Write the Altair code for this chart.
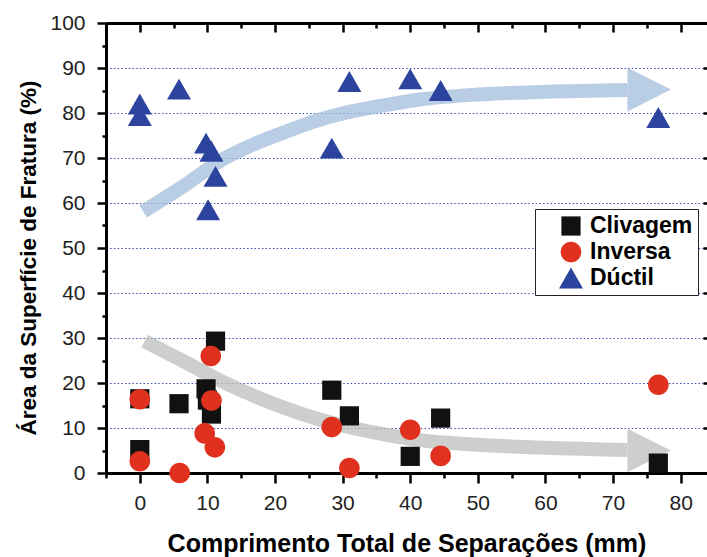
import altair as alt
import pandas as pd

# ---- measured points -------------------------------------------------------
tipos = ["Clivagem", "Inversa", "Dúctil"]

# Clivagem (squares)
cliv_x = [0, 0, 5.8, 9.8, 10.0, 10.6, 11.2, 28.4, 31.0, 40.0, 44.5, 76.7]
cliv_y = [16.5, 5.2, 15.4, 18.7, 16.2, 13.1, 29.3, 18.4, 12.7, 3.7, 12.2, 2.2]

# Inversa (circles)
inv_x = [0, 0, 5.9, 10.5, 10.6, 9.6, 11.1, 28.4, 31.0, 40.0, 44.5, 76.7]
inv_y = [16.4, 2.6, 0.0, 26.0, 16.1, 8.8, 5.7, 10.2, 1.1, 9.6, 3.8, 19.6]

# Dúctil (triangles)
duc_x = [0, 0, 5.8, 9.8, 10.6, 11.2, 10.1, 28.4, 31.0, 40.0, 44.5, 76.7]
duc_y = [82.0, 79.4, 85.3, 73.3, 71.5, 65.9, 58.5, 72.2, 87.0, 87.6, 85.0, 79.0]

# ---- trend arrows (centre line of each band + arrow head) ------------------
blue_x = [0.5, 6.9, 11.8, 16.8, 21.7, 26.6, 31.5, 36.5, 41.4, 50.0, 60.0, 72.1]
blue_y = [58.1, 64.2, 69.3, 73.0, 75.9, 78.5, 80.4, 81.8, 83.0, 84.1, 84.7, 85.1]
grey_x = [0.7, 6.9, 11.8, 16.8, 21.7, 26.6, 31.5, 36.5, 41.4, 50.0, 60.0, 72.1]
grey_y = [29.3, 24.5, 20.6, 17.2, 14.3, 11.9, 10.0, 8.5, 7.3, 6.3, 5.6, 5.1]
head_x = [75.35, 75.35]
head_y = [85.2, 5.0]

# band colours are slightly translucent so the dotted grid shows through
BLUE_BAND = "#a2bcdc"
GREY_BAND = "#bcbfbc"
BAND_OPACITY = 0.75
head_col = [BLUE_BAND, GREY_BAND]

# ---- axis ticks ------------------------------------------------------------
x_ticks = list(range(-5, 85, 5))
y_ticks = list(range(0, 105, 5))
y_major = list(range(10, 100, 10))

FONT = "Liberation Sans"

pts = pd.DataFrame({
    "x": cliv_x + inv_x + duc_x,
    "y": cliv_y + inv_y + duc_y,
    "tipo": [tipos[0]] * len(cliv_x) + [tipos[1]] * len(inv_x) + [tipos[2]] * len(duc_x),
})
blue_df = pd.DataFrame({"x": blue_x, "y": blue_y})
grey_df = pd.DataFrame({"x": grey_x, "y": grey_y})
head_df = pd.DataFrame({"x": head_x, "y": head_y, "cor": head_col})

xs = alt.Scale(domain=[-5, 83.9], nice=False, zero=False)
ys = alt.Scale(domain=[0, 100], nice=False, zero=False)

major10 = "datum.value % 10 === 0"

x_axis_main = alt.Axis(
    values=x_ticks, orient="bottom", grid=False, zindex=0,
    title="Comprimento Total de Separações (mm)",
    labelExpr=f"{major10} ? datum.label : ''",
    tickSize={"condition": {"test": major10, "value": 10}, "value": 5},
    tickWidth=2.5, tickColor="black", domainColor="black", domainWidth=3,
    labelFont=FONT, labelFontSize=21, labelColor="#222222", labelPadding=9,
    titleFont=FONT, titleFontSize=25, titleFontWeight="bold", titleColor="black",
    titleX=300.5, titleY=70, titleBaseline="middle",
)
y_axis_main = alt.Axis(
    values=y_ticks, orient="left", zindex=0,
    title="Área da Superfície de Fratura (%)",
    labelExpr=f"{major10} ? datum.label : ''",
    tickSize={"condition": {"test": major10, "value": 9}, "value": 4},
    tickWidth=2.5, tickColor="black", domainColor="black", domainWidth=3,
    labelFont=FONT, labelFontSize=21, labelColor="#222222", labelPadding=12,
    grid=True, gridColor="#3a50b8", gridWidth=1.2, gridDash=[1.5, 2.2],
    gridOpacity={"condition": {"test": f"{major10} && datum.value > 0 && datum.value < 100",
                               "value": 1}, "value": 0},
    titleFont=FONT, titleFontSize=22.5, titleFontWeight="bold", titleColor="black",
    titleAngle=270, titleX=-78, titleY=234.5, titleAlign="center", titleBaseline="middle",
)
# frame: top border with inward ticks, right edge with inward ticks
x_axis_top = alt.Axis(
    values=x_ticks, orient="bottom", offset=-450, labels=False, title=None, grid=False,
    zindex=0, domain=True, domainColor="black", domainWidth=3,
    tickSize={"condition": {"test": major10, "value": 9}, "value": 5},
    tickWidth=2.5, tickColor="black",
)
y_axis_right = alt.Axis(
    values=y_major, orient="left", offset=-601, labels=False, title=None, grid=False,
    zindex=0, domain=False, tickSize=4, tickWidth=2.5, tickColor="black",
)

band = dict(strokeWidth=14, strokeCap="butt", interpolate="monotone", opacity=BAND_OPACITY)

line_blue = alt.Chart(blue_df).mark_line(color=BLUE_BAND, **band).encode(
    x=alt.X("x:Q", scale=xs, axis=x_axis_main),
    y=alt.Y("y:Q", scale=ys, axis=y_axis_main),
)
line_grey = alt.Chart(grey_df).mark_line(color=GREY_BAND, **band).encode(
    x=alt.X("x:Q", scale=xs, axis=None),
    y=alt.Y("y:Q", scale=ys, axis=None),
)
heads = alt.Chart(head_df).mark_point(
    shape="M-1,-1L1,0L-1,1Z", size=1900, filled=True, opacity=BAND_OPACITY, strokeWidth=0
).encode(
    x=alt.X("x:Q", scale=xs, axis=None),
    y=alt.Y("y:Q", scale=ys, axis=None),
    fill=alt.Fill("cor:N", scale=None, legend=None),
)

shape_paths = [
    "M-0.8,-0.8H0.8V0.8H-0.8Z",
    "M0.86,0A0.86,0.86 0 1,1 -0.86,0A0.86,0.86 0 1,1 0.86,0Z",
    "triangle-up",
]
colors = ["#111111", "#e0311f", "#2c449e"]

legend = alt.Legend(
    title=None, orient="none", legendX=429, legendY=186,
    labelFont=FONT, labelFontWeight="bold", labelFontSize=23, labelColor="black",
    fillColor="white", strokeColor="#222222", padding=5,
    symbolSize=576, symbolStrokeWidth=0, symbolOpacity=1,
    symbolOffset=19, labelOffset=7, rowPadding=2,
)

points = alt.Chart(pts).mark_point(filled=True, opacity=1, size=576, strokeWidth=0).encode(
    x=alt.X("x:Q", scale=xs, axis=x_axis_top),
    y=alt.Y("y:Q", scale=ys, axis=y_axis_right),
    shape=alt.Shape("tipo:N", scale=alt.Scale(domain=tipos, range=shape_paths), legend=legend),
    color=alt.Color("tipo:N", scale=alt.Scale(domain=tipos, range=colors), legend=legend),
)

chart = (
    alt.layer(line_blue, line_grey, heads, points)
    .resolve_axis(x="independent", y="independent")
    .properties(
        width=601, height=450,
        padding={"left": 106, "top": 23, "right": 0, "bottom": 84},
        autosize=alt.AutoSizeParams(type="none"),
        background="white",
    )
    .configure_view(stroke=None)
    .configure_legend(symbolOpacity=1)
)

chart.save("out.html", embed_options={"renderer": "svg", "actions": False})
